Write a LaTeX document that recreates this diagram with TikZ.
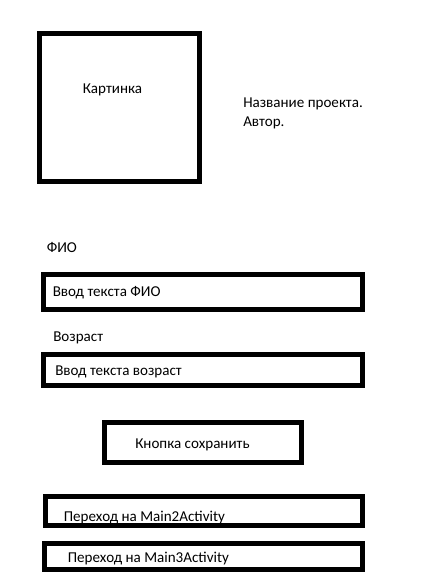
\documentclass[tikz,border=0pt]{standalone}
\usepackage{fontspec}
\setmainfont{Carlito}
\begin{document}
\begin{tikzpicture}[x=0.75pt,y=-0.75pt,
  frame/.style={draw=black,line width=3.75pt,fill=none},
  lbl/.style={inner sep=0pt,anchor=west,font=\fontsize{11.3pt}{14pt}\selectfont}]
\useasboundingbox (0,0) rectangle (421,586);
\fill[white] (0,0) rectangle (421,586);
% picture box
\draw[frame] (39.5,33.5) rectangle (199,181.5);
\node[lbl,anchor=center] (pic) at (112.5,89.5) {Картинка};
\node[lbl,anchor=north west,align=left] (title) at (243,97.5) {Название проекта.\\Автор.};
% FIO
\node[lbl] (fio) at (46.5,247.5) {ФИО};
\draw[frame] (43.5,274) rectangle (362.5,309);
\node[lbl] (fioin) at (52.5,292.5) {Ввод текста ФИО};
% age
\node[lbl] (age) at (53,337.5) {Возраст};
\draw[frame] (43.5,354) rectangle (362.5,385.5);
\node[lbl] (agein) at (55,371.5) {Ввод текста возраст};
% save button
\draw[frame] (104,422.5) rectangle (301.5,462.5);
\node[lbl] (save) at (135,444.5) {Кнопка сохранить};
% navigation
\draw[frame] (45,496.5) rectangle (362.5,525.5);
\node[lbl] (m2) at (63.5,517.5) {Переход на Main2Activity};
\draw[frame] (44,543.5) rectangle (362.5,569);
\node[lbl] (m3) at (67.5,559) {Переход на Main3Activity};
\end{tikzpicture}
\end{document}
